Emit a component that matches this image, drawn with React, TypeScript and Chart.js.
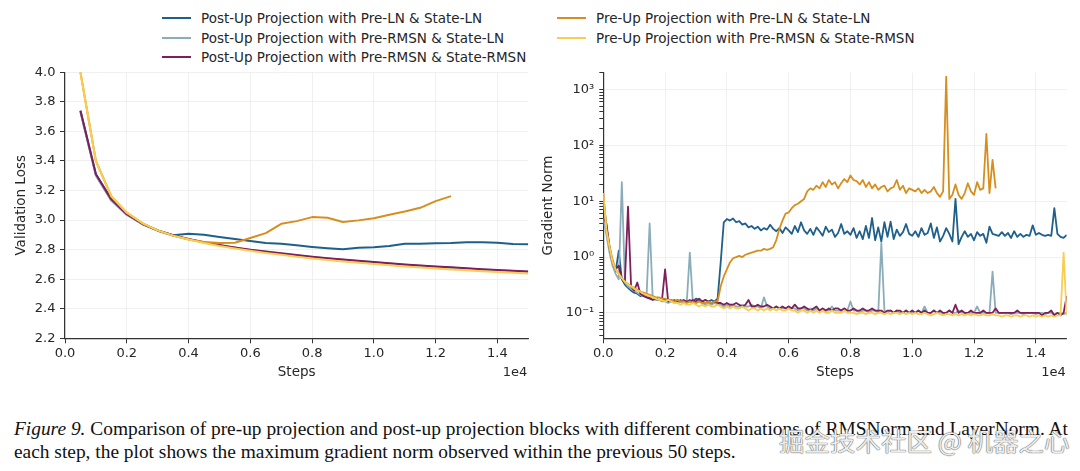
import React, { useEffect, useRef } from "react";
import { Chart, registerables } from "chart.js";

Chart.register(...registerables);

// ---------- series meta ----------
const seriesLabels = [
  "Post-Up Projection with Pre-LN & State-LN",
  "Post-Up Projection with Pre-RMSN & State-LN",
  "Post-Up Projection with Pre-RMSN & State-RMSN",
  "Pre-Up Projection with Pre-LN & State-LN",
  "Pre-Up Projection with Pre-RMSN & State-RMSN",
];
const seriesColors = ["#1f5f8b", "#8badb9", "#7e1e5c", "#d68e1f", "#f9cd50"];

// ---------- left chart: validation loss ----------
const lossSteps = [
  500, 1000, 1500, 2000, 2500, 3000, 3500, 4000, 4500, 5000, 5500, 6000, 6500, 7000, 7500,
  8000, 8500, 9000, 9500, 10000, 10500, 11000, 11500, 12000, 12500, 13000, 13500, 14000, 14500, 15000,
];
const lossPostLnLn = [
  3.74, 3.31, 3.14, 3.04, 2.975, 2.93, 2.897, 2.908, 2.9, 2.885, 2.872, 2.858, 2.845, 2.84, 2.829,
  2.818, 2.809, 2.802, 2.813, 2.816, 2.825, 2.84, 2.84, 2.843, 2.845, 2.85, 2.85, 2.847, 2.838, 2.836,
];
const lossPostRmsLn = [
  3.73, 3.3, 3.13, 3.035, 2.972, 2.928, 2.895, 2.87, 2.848, 2.83, 2.813, 2.798, 2.785, 2.773, 2.761,
  2.75, 2.74, 2.731, 2.722, 2.714, 2.706, 2.698, 2.691, 2.684, 2.678, 2.672, 2.666, 2.66, 2.655, 2.65,
];
const lossPostRmsRms = [
  3.74, 3.31, 3.14, 3.04, 2.975, 2.93, 2.897, 2.872, 2.85, 2.832, 2.815, 2.8, 2.787, 2.775, 2.763,
  2.752, 2.742, 2.733, 2.724, 2.716, 2.708, 2.7, 2.693, 2.686, 2.68, 2.674, 2.668, 2.662, 2.657, 2.652,
];
const lossPreLnLn = [
  4.0, 3.4, 3.16, 3.05, 2.98, 2.93, 2.895, 2.868, 2.852, 2.845, 2.847, 2.879, 2.912, 2.975, 2.993,
  3.02, 3.016, 2.987, 2.998, 3.013, 3.036, 3.058, 3.083, 3.128, 3.162,
];
const lossPreRmsRms = [
  4.0, 3.4, 3.16, 3.05, 2.98, 2.93, 2.895, 2.868, 2.845, 2.825, 2.808, 2.792, 2.778, 2.765, 2.752,
  2.74, 2.73, 2.72, 2.711, 2.702, 2.694, 2.686, 2.679, 2.672, 2.666, 2.66, 2.654, 2.648, 2.643, 2.638,
];
const lossYTicks = [2.2, 2.4, 2.6, 2.8, 3.0, 3.2, 3.4, 3.6, 3.8, 4.0];
const stepTicks = [0, 2000, 4000, 6000, 8000, 10000, 12000, 14000];

// ---------- right chart: gradient norm (every 100 steps from 0) ----------
const gradStepSize = 100;
const gradPostLnLn = [
  12, 3.5, 1.5, 0.8, 0.55, 1.3, 0.4, 0.32, 0.28, 0.25,
  0.23, 0.22, 0.2, 0.21, 0.19, 0.19, 0.18, 0.18, 0.17, 0.18,
  0.17, 0.17, 0.16, 0.17, 0.16, 0.17, 0.16, 0.16, 0.17, 0.16,
  0.18, 0.17, 0.16, 0.17, 0.16, 0.17, 0.16, 0.18, 0.8, 4.2,
  4.8, 4.5, 4.9, 4.2, 4.4, 3.8, 4.0, 3.4, 3.6, 3.2,
  3.5, 3.0, 3.3, 3.1, 3.8, 3.2, 2.9, 3.3, 2.7, 3.4,
  3.0, 2.6, 3.6, 2.8, 4.2, 3.0, 2.6, 3.2, 2.5, 3.4,
  2.9, 2.4, 3.5, 2.8, 3.1, 2.3, 2.7, 3.9, 2.6, 2.9,
  2.5, 3.3, 2.2, 2.9, 2.1, 3.6, 2.2, 5.0, 2.0, 3.4,
  1.9, 4.2, 2.3, 4.3, 2.1, 3.1, 2.4, 2.8, 3.9, 2.6,
  2.4, 2.9, 2.3, 3.3, 2.5, 2.7, 4.0, 2.2, 3.4, 1.9,
  2.4, 3.3, 2.6, 1.9, 11.0, 1.7, 2.3, 2.9, 2.3, 2.6,
  2.0, 2.8, 2.4, 2.6, 1.8, 3.5, 2.6, 2.5, 2.4, 2.8,
  2.4, 2.7, 2.2, 2.9, 2.3, 2.6, 2.3, 2.5, 2.4, 3.7,
  2.5, 2.7, 2.5, 2.4, 2.5, 2.4, 7.5, 2.6, 2.3, 2.2,
  2.5,
];
const gradPostRmsLn = [
  5, 2.5, 1.2, 0.7, 0.5, 0.4, 22, 0.35, 0.3, 0.27,
  0.25, 0.23, 0.21, 0.2, 0.2, 4.0, 0.18, 0.17, 0.17, 0.16,
  0.16, 0.15, 0.16, 0.15, 0.15, 0.16, 0.15, 0.15, 1.2, 0.15,
  0.15, 0.16, 0.15, 0.14, 0.15, 0.14, 0.15, 0.14, 0.14, 0.13,
  0.14, 0.13, 0.14, 0.13, 0.13, 0.14, 0.13, 0.13, 0.14, 0.13,
  0.13, 0.12, 0.19, 0.13, 0.12, 0.12, 0.13, 0.12, 0.12, 0.12,
  0.13, 0.12, 0.12, 0.11, 0.12, 0.12, 0.11, 0.12, 0.11, 0.12,
  0.11, 0.12, 0.11, 0.11, 0.13, 0.11, 0.11, 0.11, 0.12, 0.11,
  0.16, 0.11, 0.11, 0.1, 0.11, 0.11, 0.1, 0.11, 0.11, 0.1,
  1.8, 0.11, 0.1, 0.11, 0.1, 0.11, 0.1, 0.1, 0.11, 0.1,
  0.1, 0.1, 0.11, 0.1, 0.13, 0.1, 0.1, 0.11, 0.1, 0.1,
  0.1, 0.1, 0.11, 0.1, 0.1, 0.11, 0.1, 0.1, 0.1, 0.1,
  0.1, 0.13, 0.1, 0.1, 0.1, 0.1, 0.55, 0.1, 0.1, 0.1,
  0.1, 0.1, 0.095, 0.1, 0.1, 0.1, 0.095, 0.1, 0.1, 0.1,
  0.095, 0.1, 0.1, 0.095, 0.1, 0.1, 0.095, 0.1, 0.1, 0.095,
  0.1,
];
const gradPostRmsRms = [
  5, 4, 1.5, 0.8, 0.6, 0.7, 0.4, 0.38, 8.0, 0.3,
  0.25, 0.35, 0.22, 0.2, 0.19, 0.18, 0.17, 0.18, 0.17, 0.17,
  0.6, 0.16, 0.17, 0.16, 0.17, 0.16, 0.17, 0.16, 0.16, 0.17,
  0.16, 0.18, 0.16, 0.17, 0.16, 0.15, 0.16, 0.15, 0.15, 0.14,
  0.15, 0.14, 0.14, 0.15, 0.14, 0.13, 0.14, 0.17, 0.13, 0.13,
  0.14, 0.13, 0.13, 0.14, 0.13, 0.12, 0.13, 0.12, 0.13, 0.12,
  0.13, 0.12, 0.14, 0.12, 0.12, 0.13, 0.12, 0.11, 0.12, 0.13,
  0.11, 0.12, 0.11, 0.12, 0.11, 0.12, 0.12, 0.11, 0.12, 0.11,
  0.11, 0.12, 0.11, 0.11, 0.12, 0.11, 0.11, 0.12, 0.11, 0.11,
  0.11, 0.1, 0.11, 0.11, 0.1, 0.11, 0.11, 0.1, 0.11, 0.1,
  0.11, 0.1, 0.11, 0.1, 0.11, 0.1, 0.1, 0.11, 0.1, 0.11,
  0.1, 0.1, 0.11, 0.1, 0.14, 0.1, 0.11, 0.1, 0.1, 0.11,
  0.1, 0.1, 0.1, 0.11, 0.1, 0.1, 0.1, 0.12, 0.1, 0.1,
  0.1, 0.1, 0.1, 0.1, 0.11, 0.1, 0.1, 0.1, 0.1, 0.1,
  0.1, 0.1, 0.09, 0.1, 0.1, 0.11, 0.09, 0.1, 0.09, 0.1,
  0.2,
];
const gradPreLnLn = [
  14, 3.2, 1.6, 0.9, 0.6, 0.5, 0.42, 0.36, 0.33, 0.3,
  0.28, 0.26, 0.24, 0.23, 0.22, 0.21, 0.2, 0.19, 0.19, 0.18,
  0.18, 0.17, 0.17, 0.16, 0.17, 0.16, 0.16, 0.15, 0.16, 0.15,
  0.15, 0.16, 0.15, 0.15, 0.16, 0.15, 0.16, 0.16, 0.3, 0.45,
  0.6, 0.8, 0.95, 1.0, 1.05, 1.0, 1.1, 1.15, 1.2, 1.25,
  1.3, 1.3, 1.4, 1.35, 1.4, 1.5, 2.0, 3.2, 4.5, 6.0,
  6.3, 7.5, 8.5, 9.0, 10, 11, 15, 17, 16, 19,
  17, 22, 18, 24, 20, 22, 17, 21, 25, 22,
  29, 24, 23, 20, 24, 18, 22, 17, 20, 16,
  18, 19, 15, 17, 18, 24, 16, 19, 14, 17,
  16, 15, 17, 14, 16, 14, 15, 18, 14, 12,
  15, 1700, 11, 13, 20, 13, 11, 14, 21, 15,
  13, 22, 16, 17, 160, 14, 55, 17,
];
const gradPreRmsRms = [
  14, 3, 1.5, 0.8, 0.6, 0.5, 0.42, 0.36, 0.32, 0.3,
  0.27, 0.25, 0.24, 0.22, 0.21, 0.2, 0.19, 0.18, 0.17, 0.17,
  0.16, 0.17, 0.16, 0.15, 0.15, 0.14, 0.15, 0.14, 0.14, 0.15,
  0.14, 0.13, 0.14, 0.13, 0.14, 0.13, 0.13, 0.14, 0.13, 0.12,
  0.13, 0.12, 0.13, 0.12, 0.12, 0.13, 0.12, 0.11, 0.12, 0.12,
  0.11, 0.12, 0.11, 0.12, 0.11, 0.12, 0.11, 0.12, 0.11, 0.11,
  0.12, 0.11, 0.11, 0.1, 0.11, 0.11, 0.1, 0.11, 0.1, 0.11,
  0.1, 0.11, 0.1, 0.1, 0.11, 0.1, 0.1, 0.1, 0.11, 0.1,
  0.1, 0.1, 0.095, 0.1, 0.1, 0.095, 0.1, 0.1, 0.095, 0.1,
  0.1, 0.095, 0.1, 0.095, 0.1, 0.1, 0.095, 0.1, 0.095, 0.1,
  0.095, 0.1, 0.095, 0.095, 0.1, 0.095, 0.09, 0.095, 0.1, 0.095,
  0.09, 0.095, 0.095, 0.09, 0.095, 0.09, 0.095, 0.09, 0.095, 0.09,
  0.095, 0.09, 0.09, 0.095, 0.09, 0.09, 0.095, 0.09, 0.09, 0.085,
  0.09, 0.09, 0.085, 0.09, 0.09, 0.085, 0.09, 0.09, 0.085, 0.09,
  0.085, 0.09, 0.085, 0.09, 0.085, 0.09, 0.085, 0.09, 0.09, 1.2,
  0.09,
];
const gradMajorTicks = [0.1, 1, 10, 100, 1000];

const captionLine1Italic = "Figure 9.";
const captionLine1 =
  " Comparison of pre-up projection and post-up projection blocks with different combinations of RMSNorm and LayerNorm. At";
const captionLine2 = "each step, the plot shows the maximum gradient norm observed within the previous 50 steps.";
const watermark = "掘金技术社区 @ 机器之心";

// ---------- style ----------
const FONT = "'DejaVu Sans', 'Noto Sans', sans-serif";
const TEXT = "#262626";
const AXIS = "#333333";
const GRID = "#ececec";

const offsetTextPlugin = {
  id: "offsetText",
  afterDraw(chart: any) {
    const { ctx, chartArea } = chart;
    ctx.save();
    ctx.font = `13px ${FONT}`;
    ctx.fillStyle = TEXT;
    ctx.textAlign = "right";
    ctx.textBaseline = "middle";
    ctx.fillText("1e4", chartArea.right - 1, chartArea.bottom + 34.4);
    ctx.restore();
  },
};

const SUP: Record<string, string> = {
  "-": "⁻", "0": "⁰", "1": "¹", "2": "²", "3": "³", "4": "⁴", "5": "⁵", "6": "⁶", "7": "⁷", "8": "⁸", "9": "⁹",
};
const isPow10 = (v: number) => Math.abs(Math.log10(v) - Math.round(Math.log10(v))) < 1e-9;

function xScale(title: string) {
  return {
    type: "linear" as const,
    min: 0,
    max: 15000,
    afterBuildTicks: (s: any) => {
      s.ticks = stepTicks.map((v) => ({ value: v }));
    },
    afterFit: (s: any) => {
      s.height = 51.7;
    },
    ticks: {
      callback: (v: any) => (Number(v) / 1e4).toFixed(1),
      autoSkip: false,
      maxRotation: 0,
      padding: 3,
      color: TEXT,
      font: { family: FONT, size: 13 },
    },
    grid: { color: GRID, lineWidth: 0.8, tickColor: AXIS, tickLength: 5, tickWidth: 1 },
    border: { color: AXIS, width: 1.2 },
    title: {
      display: true,
      text: title,
      color: TEXT,
      font: { family: FONT, size: 13.5 },
      padding: { top: 0, bottom: 9.2 },
    },
  };
}

function LossChart() {
  const ref = useRef<HTMLCanvasElement>(null);
  useEffect(() => {
    const series = [lossPostLnLn, lossPostRmsLn, lossPostRmsRms, lossPreLnLn, lossPreRmsRms];
    const chart = new Chart(ref.current!, {
      type: "line",
      data: {
        datasets: series.map((vals, i) => ({
          label: seriesLabels[i],
          data: vals.map((v, j) => ({ x: lossSteps[j], y: v })),
          borderColor: seriesColors[i],
          backgroundColor: seriesColors[i],
          borderWidth: 2,
          pointRadius: 0,
          tension: 0,
          borderJoinStyle: "round" as const,
          order: series.length - i,
        })),
      },
      options: {
        responsive: false,
        animation: false,
        devicePixelRatio: 1,
        layout: { padding: { top: 11.7, right: 11.7, left: 0, bottom: 0 } },
        plugins: { legend: { display: false }, tooltip: { enabled: false } },
        scales: {
          x: xScale("Steps"),
          y: {
            type: "linear",
            min: 2.2,
            max: 4.0,
            afterBuildTicks: (s: any) => {
              s.ticks = lossYTicks.map((v) => ({ value: v }));
            },
            afterFit: (s: any) => {
              s.width = 65;
            },
            ticks: {
              callback: (v: any) => Number(v).toFixed(1),
              autoSkip: false,
              padding: 4.5,
              color: TEXT,
              font: { family: FONT, size: 13 },
            },
            grid: { color: GRID, lineWidth: 0.8, tickColor: AXIS, tickLength: 5, tickWidth: 1 },
            border: { color: AXIS, width: 1.2 },
            title: {
              display: true,
              text: "Validation Loss",
              color: TEXT,
              font: { family: FONT, size: 13.5 },
              padding: { top: 13.6, bottom: 0 },
            },
          },
        },
      },
      plugins: [offsetTextPlugin],
    } as any);
    return () => chart.destroy();
  }, []);
  return (
    <canvas
      ref={ref}
      width={540}
      height={330}
      style={{ position: "absolute", left: 0, top: 60, width: 540, height: 330 }}
    />
  );
}

function GradChart() {
  const ref = useRef<HTMLCanvasElement>(null);
  useEffect(() => {
    const series = [gradPostLnLn, gradPostRmsLn, gradPostRmsRms, gradPreLnLn, gradPreRmsRms];
    const logTicks: number[] = [];
    for (let e = -2; e <= 3; e++) {
      for (let k = 1; k <= 9; k++) {
        const v = k * Math.pow(10, e);
        if (v >= 0.035 && v <= 2000) logTicks.push(v);
      }
    }
    const chart = new Chart(ref.current!, {
      type: "line",
      data: {
        datasets: series.map((vals, i) => ({
          label: seriesLabels[i],
          data: vals.map((v, j) => ({ x: j * gradStepSize, y: v })),
          borderColor: seriesColors[i],
          backgroundColor: seriesColors[i],
          borderWidth: 1.8,
          pointRadius: 0,
          tension: 0,
          borderJoinStyle: "round" as const,
          order: series.length - i,
        })),
      },
      options: {
        responsive: false,
        animation: false,
        devicePixelRatio: 1,
        layout: { padding: { top: 11.7, right: 13.3, left: 0, bottom: 0 } },
        plugins: { legend: { display: false }, tooltip: { enabled: false } },
        scales: {
          x: xScale("Steps"),
          y: {
            type: "logarithmic",
            min: 0.035,
            max: 2000,
            afterBuildTicks: (s: any) => {
              s.ticks = logTicks.map((v) => ({ value: v, major: isPow10(v) }));
            },
            afterFit: (s: any) => {
              s.width = 73.3;
            },
            ticks: {
              callback: (v: any) => {
                const n = Number(v);
                if (!gradMajorTicks.some((m) => Math.abs(m - n) / m < 1e-9)) return "";
                const p = String(Math.round(Math.log10(n)));
                return "10" + p.split("").map((c) => SUP[c]).join("");
              },
              autoSkip: false,
              padding: 5,
              color: TEXT,
              font: { family: FONT, size: 13 },
            },
            grid: {
              color: (ctx: any) => (ctx.tick && isPow10(ctx.tick.value) ? GRID : "rgba(0,0,0,0)"),
              lineWidth: 0.8,
              tickColor: AXIS,
              tickLength: 4,
              tickWidth: 1,
            },
            border: { color: AXIS, width: 1.2 },
            title: {
              display: true,
              text: "Gradient Norm",
              color: TEXT,
              font: { family: FONT, size: 13.5 },
              padding: { top: 9.9, bottom: 0 },
            },
          },
        },
      },
      plugins: [offsetTextPlugin],
    } as any);
    return () => chart.destroy();
  }, []);
  return (
    <canvas
      ref={ref}
      width={550}
      height={330}
      style={{ position: "absolute", left: 530, top: 60, width: 550, height: 330 }}
    />
  );
}

function Legend() {
  const cols = [
    { lineX: 162, textX: 201, items: [0, 1, 2] },
    { lineX: 557, textX: 596, items: [3, 4] },
  ];
  const rowY = [18, 37.5, 57];
  return (
    <>
      {cols.map((c) =>
        c.items.map((idx, r) => (
          <React.Fragment key={idx}>
            <div
              style={{
                position: "absolute",
                left: c.lineX,
                top: rowY[r] - 1,
                width: 29,
                height: 2,
                background: seriesColors[idx],
              }}
            />
            <div
              style={{
                position: "absolute",
                left: c.textX,
                top: rowY[r] - 9,
                height: 18,
                lineHeight: "18px",
                fontFamily: FONT,
                fontSize: 13.5,
                color: TEXT,
                whiteSpace: "nowrap",
              }}
            >
              {seriesLabels[idx]}
            </div>
          </React.Fragment>
        ))
      )}
    </>
  );
}

export default function App() {
  return (
    <div
      style={{
        position: "absolute",
        left: 0,
        top: 0,
        width: 1080,
        height: 471,
        background: "#ffffff",
        overflow: "hidden",
      }}
    >
      <Legend />
      <LossChart />
      <GradChart />
      <div
        style={{
          position: "absolute",
          left: 14,
          top: 416.5,
          fontFamily: "'Liberation Serif', 'Times New Roman', serif",
          fontSize: 19.4,
          lineHeight: "23px",
          color: "#111",
          whiteSpace: "nowrap",
        }}
      >
        <div>
          <i>{captionLine1Italic}</i>
          {captionLine1}
        </div>
        <div>{captionLine2}</div>
      </div>
      <div
        style={{
          position: "absolute",
          left: 779,
          top: 424,
          fontFamily: "'Noto Sans CJK SC', sans-serif",
          fontSize: 25.5,
          lineHeight: "32px",
          color: "rgba(255,255,255,0.92)",
          textShadow: "0 0 1px rgba(60,60,60,0.9), 0 0 1px rgba(60,60,60,0.9)",
          whiteSpace: "nowrap",
        }}
      >
        {watermark}
      </div>
    </div>
  );
}
